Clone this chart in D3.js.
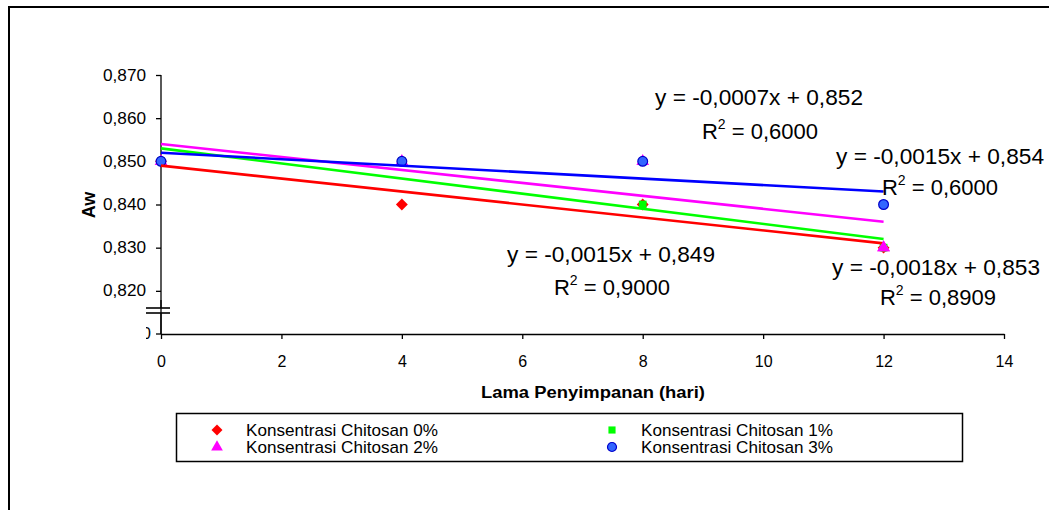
<!DOCTYPE html>
<html><head><meta charset="utf-8">
<script src="https://cdn.jsdelivr.net/npm/d3@7"></script>
<style>body{margin:0;background:#fff;}svg{display:block;font-family:"Liberation Sans",Arial,sans-serif;}</style>
</head><body>
<svg id="c" width="1049" height="510"></svg>
<script>
const days = [0, 4, 8, 12];
const seriesNames = ["Konsentrasi Chitosan 0%", "Konsentrasi Chitosan 1%", "Konsentrasi Chitosan 2%", "Konsentrasi Chitosan 3%"];
const aw0 = [0.850, 0.840, 0.840, 0.830];
const aw1 = [0.850, 0.850, 0.840, 0.830];
const aw2 = [0.850, 0.850, 0.850, 0.830];
const aw3 = [0.850, 0.850, 0.850, 0.840];
const colors = ["#FF0000", "#00FF00", "#FF00FF", "#0000FF"];
const eqLabels = ["y = -0,0015x + 0,849", "y = -0,0018x + 0,853", "y = -0,0015x + 0,854", "y = -0,0007x + 0,852"];
const r2Labels = ["0,9000", "0,8909", "0,6000", "0,6000"];
const xTicks = [0, 2, 4, 6, 8, 10, 12, 14];
const yTicks = [0.820, 0.830, 0.840, 0.850, 0.860, 0.870];

const svg = d3.select("#c");
svg.append("rect").attr("x", 9).attr("y", 7).attr("width", 1060).attr("height", 520)
  .attr("fill", "none").attr("stroke", "#000").attr("stroke-width", 2);

const x = d3.scaleLinear().domain([0, 14]).range([161, 1004]);
const y = d3.scaleLinear().domain([0.810, 0.870]).range([334, 75]);

// axes
const xAxis = svg.append("g").attr("transform", "translate(0,334)")
  .call(d3.axisBottom(x).tickValues(xTicks).tickSize(5).tickSizeOuter(0).tickFormat(d3.format("d")));
const yAxis = svg.append("g").attr("transform", "translate(161,0)")
  .call(d3.axisLeft(y).tickValues(yTicks).tickSize(5).tickPadding(10).tickSizeOuter(0).tickFormat(d => d3.format(".3f")(d).replace(".", ",")));
[xAxis, yAxis].forEach(g => {
  g.selectAll("path,line").attr("stroke", "#000").attr("stroke-width", 1.3);
  g.selectAll("text").attr("font-size", 16).attr("fill", "#000").attr("font-family", "Liberation Sans, Arial, sans-serif");
});
xAxis.selectAll("text").attr("y", 22);
yAxis.selectAll("text").attr("textLength", 43).attr("lengthAdjust", "spacingAndGlyphs");
yAxis.select(".domain").attr("d", `M0,75V334`);
// extra bottom tick at 0.810 with clipped label
yAxis.append("line").attr("x1", -5).attr("x2", 0).attr("y1", y(0.810)).attr("y2", y(0.810)).attr("stroke", "#000").attr("stroke-width", 1.3);
svg.append("clipPath").attr("id", "clipLbl").append("rect").attr("x", 146).attr("y", 320).attr("width", 5).attr("height", 25);
svg.append("text").attr("x", 151).attr("y", y(0.810)).attr("dy", "0.32em").attr("text-anchor", "end")
  .attr("font-size", 16).attr("clip-path", "url(#clipLbl)").text("0");
// axis break marks
svg.append("rect").attr("x", 146).attr("y", 308).attr("width", 24).attr("height", 5).attr("fill", "#fff");
[308, 313].forEach(yy => svg.append("line").attr("x1", 146).attr("x2", 170).attr("y1", yy).attr("y2", yy)
  .attr("stroke", "#000").attr("stroke-width", 1.6));
svg.append("line").attr("x1", 161).attr("x2", 161).attr("y1", 300).attr("y2", 334).attr("stroke", "#000").attr("stroke-width", 1.3);

// titles
svg.append("text").attr("x", 593).attr("y", 398).attr("text-anchor", "middle").attr("font-size", 16).attr("font-weight", "bold")
  .attr("textLength", 224).attr("lengthAdjust", "spacingAndGlyphs").text("Lama Penyimpanan (hari)");
svg.append("text").attr("transform", "translate(95,205) rotate(-90)").attr("text-anchor", "middle").attr("font-size", 18).attr("font-weight", "bold").text("Aw");

const series = [aw0, aw1, aw2, aw3];
// regression
function fit(xs, ys) {
  const mx = d3.mean(xs), my = d3.mean(ys);
  let sxy = 0, sxx = 0;
  xs.forEach((v, i) => { sxy += (v - mx) * (ys[i] - my); sxx += (v - mx) * (v - mx); });
  const b = sxy / sxx; return { b, a: my - b * mx };
}
// markers
const sym = [d3.symbolDiamond2, d3.symbolSquare, d3.symbolTriangle, d3.symbolCircle];
function drawMarker(g, i, cx, cy, s) {
  const sizes = [90, 60, 70, 75].map(v => v * (s || 1));
  const p = g.append("path").attr("d", d3.symbol().type(sym[i]).size(sizes[i])())
    .attr("transform", `translate(${cx},${cy})`);
  if (i === 3) p.attr("fill", "#3366FF").attr("stroke", "#0000CC").attr("stroke-width", 1.2);
  else p.attr("fill", colors[i]);
}
const mg = svg.append("g");
series.forEach((vals, i) => {
  vals.forEach((v, j) => drawMarker(mg, i, x(days[j]), y(v)));
});
// trendlines
series.forEach((vals, i) => {
  const f = fit(days, vals);
  svg.append("line").attr("x1", x(0)).attr("y1", y(f.a)).attr("x2", x(12)).attr("y2", y(f.a + f.b * 12))
    .attr("stroke", colors[i]).attr("stroke-width", 2.6);
});
drawMarker(svg.append("g"), 2, x(12), y(aw2[3]));

// equations
const eqPos = [[611, 262, 612, 295], [936, 275, 938, 305], [940, 164, 940, 195], [759, 105, 760, 139]];
const eg = svg.append("g").attr("font-size", 22).attr("fill", "#000").attr("text-anchor", "middle");
eqPos.forEach((p, i) => {
  eg.append("text").attr("x", p[0]).attr("y", p[1]).attr("textLength", 208).attr("lengthAdjust", "spacingAndGlyphs").text(eqLabels[i]);
  const t = eg.append("text").attr("x", p[2]).attr("y", p[3]);
  t.append("tspan").text("R");
  t.append("tspan").attr("font-size", 14).attr("dy", -10).text("2");
  t.append("tspan").attr("dy", 10).text(" = " + r2Labels[i]);
});

// legend
svg.append("rect").attr("x", 176.5).attr("y", 413.5).attr("width", 786).attr("height", 48)
  .attr("fill", "#fff").attr("stroke", "#000").attr("stroke-width", 1.5);
const legPos = [[217, 430], [612, 430], [217, 447], [612, 447]];
const lg = svg.append("g");
seriesNames.forEach((n, i) => {
  drawMarker(lg, i, legPos[i][0], legPos[i][1], 0.85);
  lg.append("text").attr("x", legPos[i][0] + 29).attr("y", legPos[i][1]).attr("dy", "0.36em")
    .attr("font-size", 17).attr("textLength", 192).attr("lengthAdjust", "spacingAndGlyphs").text(n);
});
</script>
</body></html>
